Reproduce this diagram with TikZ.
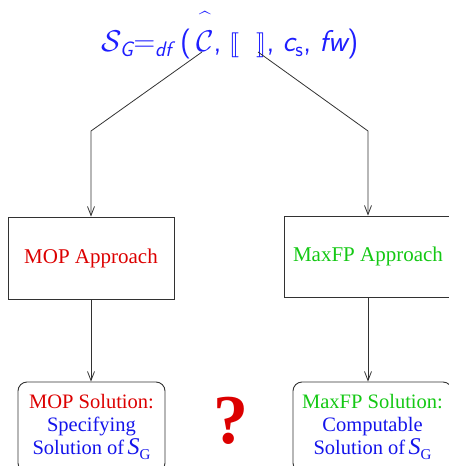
\RequirePackage{fix-cm}
\documentclass[tikz,border=0pt]{standalone}
\usepackage{amsmath}
\usepackage{fontspec}
\setmainfont{Liberation Serif}
\usepackage{stmaryrd}
\usetikzlibrary{arrows.meta}
\definecolor{tblue}{RGB}{30,30,255}
\definecolor{mblue}{RGB}{20,20,235}
\definecolor{mred}{RGB}{220,0,0}
\definecolor{mgreen}{RGB}{20,200,20}
\definecolor{edge}{RGB}{50,50,50}
\newcommand{\subsf}[1]{\mbox{\fontsize{21}{21}\selectfont\sffamily\itshape #1}}
\tikzset{
  conn/.style={draw=edge, line width=0.8pt},
  arr/.style={conn, -{Straight Barb[length=9pt,width=7pt,line width=0.8pt]}},
  apbox/.style={draw=edge, line width=0.9pt, inner sep=0pt, font=\fontsize{21}{25}\selectfont},
  solbox/.style={draw=edge, line width=0.9pt, rounded corners=9pt, inner sep=0pt, align=center,
     font=\fontsize{20.5}{23}\selectfont},
}
\begin{document}
\begin{tikzpicture}[x=1pt,y=-1pt]
\useasboundingbox (0,0) rectangle (448,466);
\node[text=tblue, inner sep=0pt, font=\fontsize{30}{36}\selectfont] (T) at (230,34)
  {$\mathcal{S}_{\subsf{G}}{=}_{\subsf{df}}\;\textsf{(}\,\overset{\widehat{\hphantom{\mathcal{C}}}}{\mathcal{C}}\textsf{,}\;\llbracket\;\;\rrbracket\textsf{,}\;\textsf{\itshape c}_{\textsf{s}}\textsf{,}\;\textsf{\itshape fw}\textsf{)}$};
\coordinate (tl) at (202,52);
\coordinate (tr) at (258,52);
\coordinate (bl) at (91,131);
\coordinate (br) at (368,131);
\node[apbox, minimum width=166pt, minimum height=82pt, text=mred] (A1) at (91,258) {MOP Approach};
\node[apbox, minimum width=168pt, minimum height=81pt, text=mgreen] (A2) at (368,256.5) {MaxFP Approach};
\node[solbox, minimum width=147pt, minimum height=90pt] (S1) at (91.5,427)
  {\textcolor{mred}{MOP Solution:}\\ \textcolor{mblue}{Specifying}\\ \textcolor{mblue}{Solution of\,{\fontsize{24}{24}\selectfont\itshape S}\raisebox{-5pt}{\fontsize{15}{15}\selectfont G}}};
\node[solbox, minimum width=159pt, minimum height=90pt] (S2) at (372.5,427)
  {\textcolor{mgreen}{MaxFP Solution:}\\ \textcolor{mblue}{Computable}\\ \textcolor{mblue}{Solution of\,{\fontsize{24}{24}\selectfont\itshape S}\raisebox{-5pt}{\fontsize{15}{15}\selectfont G}}};
\node[text=mred, inner sep=0pt, font=\fontsize{70}{70}\selectfont\bfseries] (Q) at (231,421) {?};
\draw[arr] (tl) -- (bl) -- (A1.north);
\draw[arr] (tr) -- (br) -- (A2.north);
\draw[arr] (A1.south) -- (A1.south |- S1.north);
\draw[arr] (A2.south) -- (A2.south |- S2.north);
\end{tikzpicture}
\end{document}
